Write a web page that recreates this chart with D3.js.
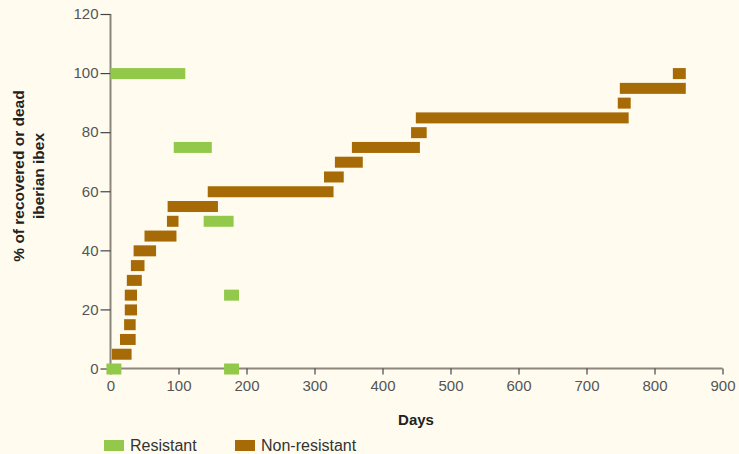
<!DOCTYPE html>
<html><head><meta charset="utf-8">
<script src="https://cdn.jsdelivr.net/npm/d3@7"></script>
<style>
html,body{margin:0;padding:0;background:#fffcef;}
svg{display:block;font-family:"Liberation Sans",Arial,Helvetica,sans-serif;}
</style></head><body>
<svg id="chart" width="739" height="454"></svg>
<script>
// Resistant intervals: [start day, end day], % value
const resistantStart = [-6, 0, 93, 137, 167, 167];
const resistantEnd   = [16, 110, 149, 181, 189, 189];
const resistantValue = [0, 100, 75, 50, 25, 0];

// Non-resistant intervals
const nonResStart = [2, 14, 20, 21, 21, 24, 30, 34, 50, 83, 84, 143, 314, 330, 355, 442, 449, 746, 749, 827];
const nonResEnd   = [31, 37, 37, 39, 39, 46, 50, 67, 97, 100, 158, 328, 343, 371, 455, 465, 762, 765, 846, 846];
const nonResValue = [5, 10, 15, 20, 25, 30, 35, 40, 45, 50, 55, 60, 65, 70, 75, 80, 85, 90, 95, 100];

const xTicks = [0, 100, 200, 300, 400, 500, 600, 700, 800, 900];
const yTicks = [0, 20, 40, 60, 80, 100, 120];

const green = "#93c94b", brown = "#a66a06";
const svg = d3.select("#chart");
const x = d3.scaleLinear().domain([0, 900]).range([110.5, 722.5]);
const y = d3.scaleLinear().domain([0, 120]).range([368.5, 14]);
const barH = 11;

const yAxis = svg.append("g").attr("transform", "translate(110.5,0)")
  .call(d3.axisLeft(y).tickValues(yTicks).tickSize(10).tickPadding(2));
const xAxis = svg.append("g").attr("transform", "translate(0,368.5)")
  .call(d3.axisBottom(x).tickValues(xTicks).tickSize(6).tickPadding(6));
[yAxis, xAxis].forEach(a => {
  a.select(".domain").attr("stroke", "#8c867c").attr("stroke-width", 2);
  a.selectAll(".tick line").attr("stroke", "#444").attr("stroke-width", 1.2);
  a.selectAll(".tick text").attr("fill", "#555").style("font-size", "15px")
    .style("font-family", "'Liberation Sans',Arial,sans-serif");
});
yAxis.select(".domain").attr("d", `M0,${y(120)}V${y(0)}`);
xAxis.select(".domain").attr("d", `M${x(0)},0H${x(900)}`);

function drawBars(starts, ends, vals, color) {
  svg.append("g").selectAll("rect").data(vals).join("rect")
    .attr("x", (d, i) => x(starts[i]))
    .attr("width", (d, i) => x(ends[i]) - x(starts[i]))
    .attr("y", d => y(d) - barH / 2 + 0.5)
    .attr("height", barH)
    .attr("fill", color);
}
drawBars(nonResStart, nonResEnd, nonResValue, brown);
drawBars(resistantStart, resistantEnd, resistantValue, green);

// Axis titles
svg.append("text").attr("x", 416).attr("y", 425).attr("text-anchor", "middle")
  .style("font-size", "15px").style("font-weight", "bold").attr("fill", "#222").text("Days");
const yt = svg.append("text").attr("transform", "translate(0,176) rotate(-90)")
  .attr("text-anchor", "middle").style("font-size", "15.5px").style("font-weight", "bold").attr("fill", "#222");
yt.append("tspan").attr("x", 0).attr("y", 24).text("% of recovered or dead");
yt.append("tspan").attr("x", 0).attr("y", 44).text("iberian ibex");

// Legend
const legend = [["Resistant", green, 104], ["Non-resistant", brown, 235]];
legend.forEach(([label, color, lx]) => {
  svg.append("rect").attr("x", lx).attr("y", 440).attr("width", 20).attr("height", 11).attr("fill", color);
  svg.append("text").attr("x", lx + 26).attr("y", 451).style("font-size", "16px").attr("fill", "#333").text(label);
});
</script>
</body></html>
